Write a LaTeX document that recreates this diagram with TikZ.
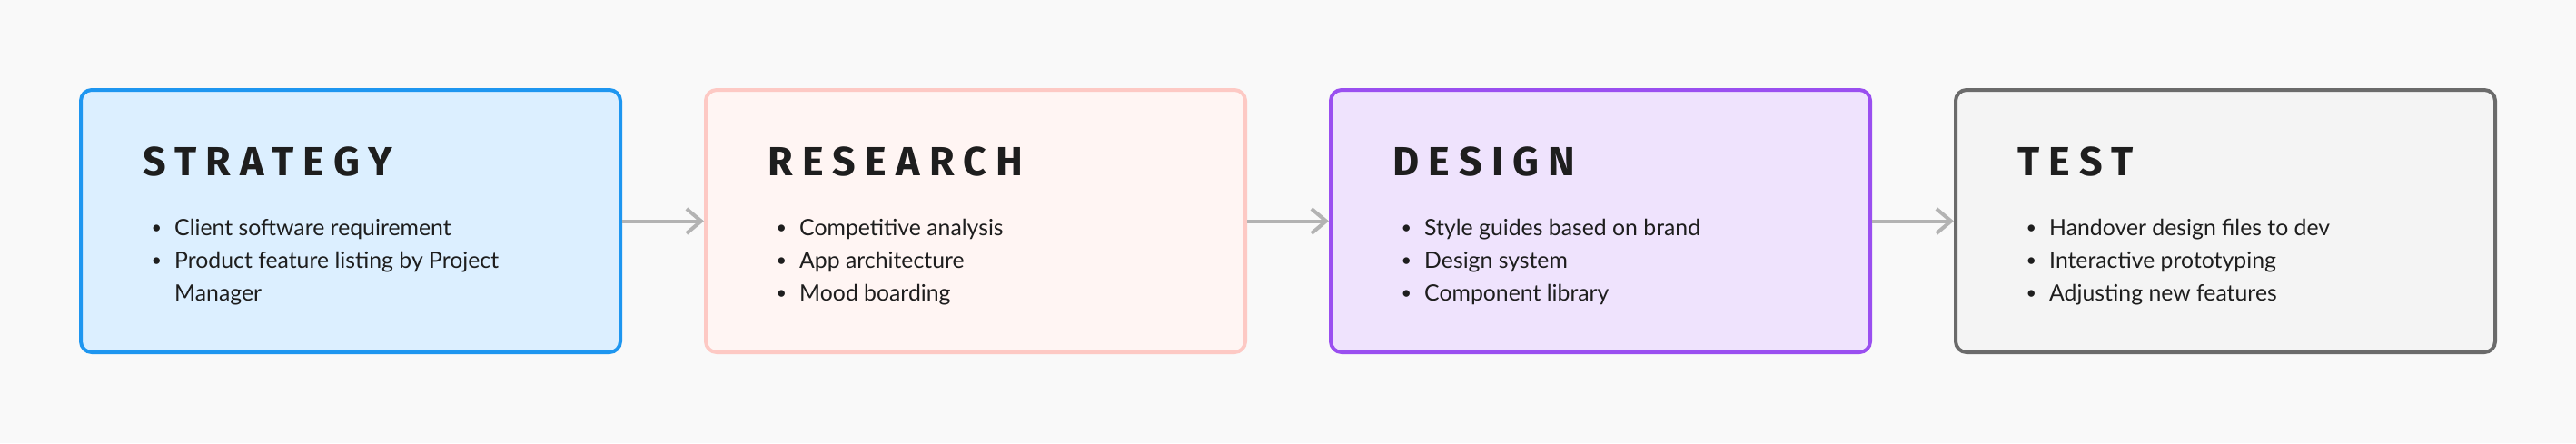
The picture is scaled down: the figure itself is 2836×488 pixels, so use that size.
\documentclass[tikz,border=0pt]{standalone}
\usepackage{fontspec}
\usetikzlibrary{arrows.meta}
\setmainfont{Lato}
\newfontfamily\titlefont[LetterSpace=23]{Fira Sans}
\newfontfamily\bodyfont{Lato}
\definecolor{bg}{HTML}{F9F9F9}
\definecolor{txt}{HTML}{1E1E1E}
\definecolor{arr}{HTML}{B3B3B3}
\definecolor{fillA}{HTML}{DCEFFF}\definecolor{lineA}{HTML}{1E96F0}
\definecolor{fillB}{HTML}{FFF5F3}\definecolor{lineB}{HTML}{FDC9C4}
\definecolor{fillC}{HTML}{EFE3FD}\definecolor{lineC}{HTML}{9A4FF0}
\definecolor{fillD}{HTML}{F4F4F4}\definecolor{lineD}{HTML}{6B6B6B}
\tikzset{
  phase/.style={draw, line width=2pt, rounded corners=6pt, minimum width=297pt, minimum height=144.5pt, inner sep=0pt},
  ttl/.style={anchor=base west, inner sep=0pt, text=txt, font=\titlefont\bfseries\fontsize{22.4}{24}\selectfont},
  itm/.style={anchor=base west, inner sep=0pt, text=txt, font=\bodyfont\fontsize{12.4}{18}\selectfont},
  flow/.style={draw=arr, line width=2pt, -{Straight Barb[length=8pt, width=13.5pt, line width=2pt]}}
}
\newcommand{\bul}{\makebox[19.9pt][c]{\raisebox{0.85pt}{\scalebox{0.8}{•}}}}
\newcommand{\nob}{\hspace*{19.9pt}}
\begin{document}
\begin{tikzpicture}[x=0.5pt,y=-0.5pt]
\fill[bg] (0,0) rectangle (2836,488);
\useasboundingbox (0,0) rectangle (2836,488);
% boxes
\node[phase, fill=fillA, draw=lineA] (a) at (386,243.5) {};
\node[phase, fill=fillB, draw=lineB] (b) at (1074,243.5) {};
\node[phase, fill=fillC, draw=lineC] (c) at (1762,243.5) {};
\node[phase, fill=fillD, draw=lineD] (d) at (2450,243.5) {};
% titles
\node[ttl] (ta) at (157,193) {STRATEGY};
\node[ttl] (tb) at (845,193) {RESEARCH};
\node[ttl] (tc) at (1533,193) {DESIGN};
\node[ttl] (td) at (2221,193) {TEST};
% items
\node[itm] (a1) at (152,259) {\bul Client software requirement};
\node[itm] (a2) at (152,295) {\bul Product feature listing by Project};
\node[itm] (a3) at (152,331) {\nob Manager};
\node[itm] (b1) at (840,259) {\bul Competitive analysis};
\node[itm] (b2) at (840,295) {\bul App architecture};
\node[itm] (b3) at (840,331) {\bul Mood boarding};
\node[itm] (c1) at (1528,259) {\bul Style guides based on brand};
\node[itm] (c2) at (1528,295) {\bul Design system};
\node[itm] (c3) at (1528,331) {\bul Component library};
\node[itm] (d1) at (2216,259) {\bul Handover design files to dev};
\node[itm] (d2) at (2216,295) {\bul Interactive prototyping};
\node[itm] (d3) at (2216,331) {\bul Adjusting new features};
% connectors
\draw[flow] (a.east) -- (b.west);
\draw[flow] (b.east) -- (c.west);
\draw[flow] (c.east) -- (d.west);
\end{tikzpicture}
\end{document}
